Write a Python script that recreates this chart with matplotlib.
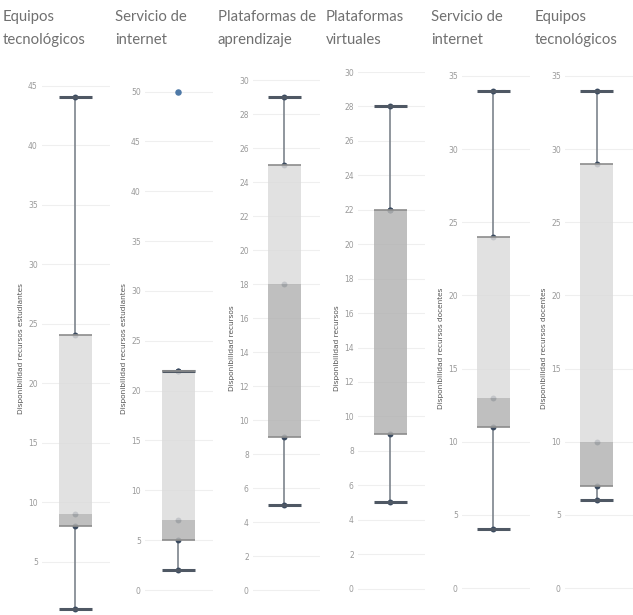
import matplotlib
matplotlib.use("Agg")
import matplotlib.pyplot as plt
import numpy as np

W, H = 633, 615

titles = ["Equipos\ntecnológicos", "Servicio de\ninternet", "Plataformas de\naprendizaje",
          "Plataformas\nvirtuales", "Servicio de\ninternet", "Equipos\ntecnológicos"]
ylabels = ["Disponibilidad recursos estudiantes", "Disponibilidad recursos estudiantes",
           "Disponibilidad recursos", "Disponibilidad recursos",
           "Disponibilidad recursos docentes", "Disponibilidad recursos docentes"]

# five-number summaries: whisker low, q1, median, q3, whisker high
whislo = [1, 2, 5, 5, 4, 6]
q1 = [8, 5, 9, 9, 11, 7]
med = [9, 7, 18, 22, 13, 10]
q3 = [24, 22, 25, 22, 24, 29]
whishi = [44, 22, 29, 28, 34, 34]
outliers = [[], [50], [], [], [], []]

tick_max = [45, 50, 30, 30, 35, 35]
tick_step = [5, 5, 2, 2, 5, 5]

# layout in pixels: plot left/right, box centre, zero line and pixels per unit
px_left = [42, 145, 253, 358, 462, 565]
px_right = [110, 213, 320, 425, 530, 633]
px_center = [75, 178.5, 284, 390, 493, 596.5]
px_zero = [621, 590, 590, 588, 588, 588]
px_unit = [11.9, 9.97, 17.0, 17.5, 14.63, 14.63]
title_x = [3, 115, 218, 326, 431, 535]
PX_TOP, PX_BOT = 72, 625
BOX_W = 33

fig = plt.figure(figsize=(W / 100, H / 100), dpi=100)
fig.patch.set_facecolor("white")

for i in range(6):
    l, r = px_left[i], px_right[i]
    ax = fig.add_axes([l / W, 1 - PX_BOT / H, (r - l) / W, (PX_BOT - PX_TOP) / H])
    ax.set_facecolor("none")
    y0, k = px_zero[i], px_unit[i]
    ax.set_ylim((y0 - PX_BOT) / k, (y0 - PX_TOP) / k)
    ax.set_xlim(l, r)
    cx = px_center[i]
    hw = BOX_W / 2

    # data points under the box
    pts = [whislo[i], q1[i], med[i], q3[i], whishi[i]]
    ax.scatter([cx] * len(pts), pts, s=18, color="#3b4b60", zorder=2, linewidths=0)
    if outliers[i]:
        ax.scatter([cx] * len(outliers[i]), outliers[i], s=22, color="#4e79a7",
                   zorder=2, linewidths=0)

    # whiskers and caps
    ax.vlines(cx, whislo[i], q1[i], color="#7d848c", lw=1.2, zorder=1)
    ax.vlines(cx, q3[i], whishi[i], color="#7d848c", lw=1.2, zorder=1)
    ax.hlines([whislo[i], whishi[i]], cx - hw, cx + hw, color="#4f5864", lw=2.2, zorder=4)

    # two-tone box
    ax.bar(cx, med[i] - q1[i], bottom=q1[i], width=BOX_W, color="#b4b4b4",
           alpha=0.85, zorder=3, linewidth=0)
    ax.bar(cx, q3[i] - med[i], bottom=med[i], width=BOX_W, color="#dcdcdc",
           alpha=0.85, zorder=3, linewidth=0)
    ax.hlines([q1[i], q3[i]], cx - hw, cx + hw, color="#8c8c8c", lw=1.2, zorder=4)

    ax.set_yticks(np.arange(0, tick_max[i] + 1, tick_step[i]))
    ax.set_xticks([])
    ax.tick_params(axis="y", length=0, labelsize=5.5, labelcolor="#9a9a9a", pad=3)
    ax.yaxis.grid(True, color="#efefef", lw=0.8)
    ax.set_axisbelow(True)
    for s in ax.spines.values():
        s.set_visible(False)
    ax.set_ylabel(ylabels[i], fontsize=5.3, color="#555555", labelpad=3)

    fig.text(title_x[i] / W, 1 - 10 / H, titles[i], ha="left", va="top",
             fontsize=10.7, color="#707070", family="Lato", linespacing=1.8)

fig.savefig("out.png", dpi=100)
